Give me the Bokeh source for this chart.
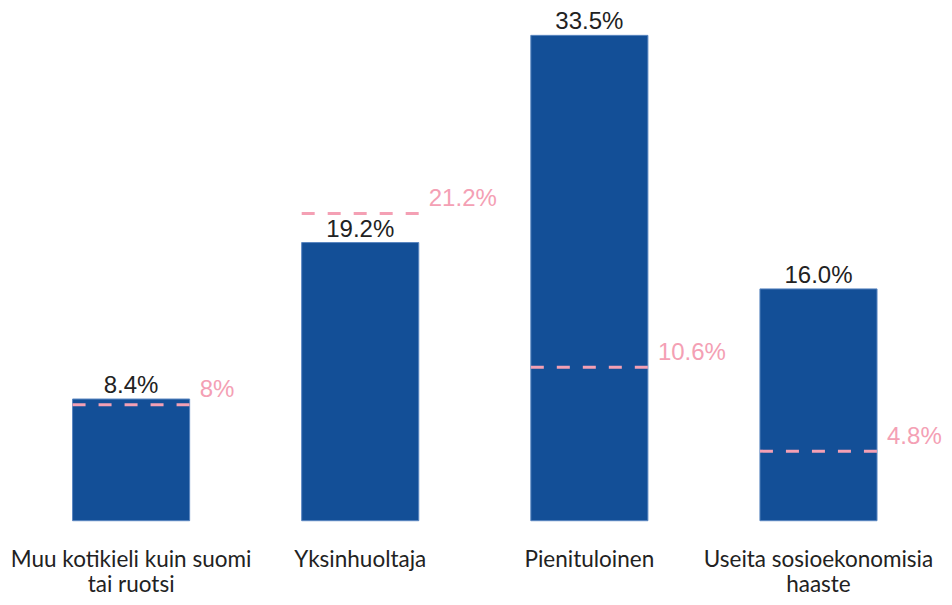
from bokeh.plotting import figure
from bokeh.models import ColumnDataSource, Range1d
from bokeh.embed import file_html
from bokeh.resources import INLINE
from bokeh.core.properties import value

categories = ["Muu kotikieli kuin suomi\ntai ruotsi", "Yksinhuoltaja", "Pienituloinen",
              "Useita sosioekonomisia\nhaaste"]
bar_values = [8.4, 19.2, 33.5, 16.0]
ref_values = [8.0, 21.2, 10.6, 4.8]
bar_labels = ["8.4%", "19.2%", "33.5%", "16.0%"]
ref_labels = ["8%", "21.2%", "10.6%", "4.8%"]

bw = 0.511
xpos = list(range(len(categories)))
src = ColumnDataSource(dict(x=xpos, cat=categories, val=bar_values, ref=ref_values,
                            blab=bar_labels, rlab=ref_labels,
                            x0=[i - bw / 2 for i in xpos], x1=[i + bw / 2 for i in xpos],
                            base=[0] * len(xpos)))

p = figure(x_range=Range1d(-0.57, 3.55), y_range=Range1d(-5.3, 35.907),
           width=944, height=597, output_backend="svg", toolbar_location=None,
           min_border_left=0, min_border_right=0, min_border_top=0, min_border_bottom=0)
p.outline_line_color = None
p.grid.visible = False
p.xaxis.visible = False
p.yaxis.visible = False
p.background_fill_color = "white"
p.border_fill_color = "white"

p.vbar(x="x", top="val", width=bw, bottom=0, source=src,
       fill_color="#134f97", line_color="#5a86c0", line_width=1)

p.segment(x0="x0", x1="x1", y0="ref", y1="ref", source=src,
          line_color="#f4a0b4", line_width=3, line_dash="13 13")

p.text(x="x", y="val", text="blab", source=src, text_align="center", text_baseline="bottom",
       y_offset=-1, text_font=value("Liberation Sans"), text_font_size="24px", text_color="#222222")

p.text(x="x1", y="ref", text="rlab", source=src,
       text_align="left", text_baseline="middle", x_offset=10, y_offset=-16,
       text_font=value("Liberation Sans"), text_font_size="24px", text_color="#f4a0b4")

# category labels below the bars
p.text(x="x", y="base", text="cat", source=src, text_align="center", text_baseline="top",
       y_offset=24, text_font=value("Lato"), text_font_size="22.5px", text_line_height=0.95,
       text_color="#222222")

open("out.html", "w").write(file_html(p, INLINE))
